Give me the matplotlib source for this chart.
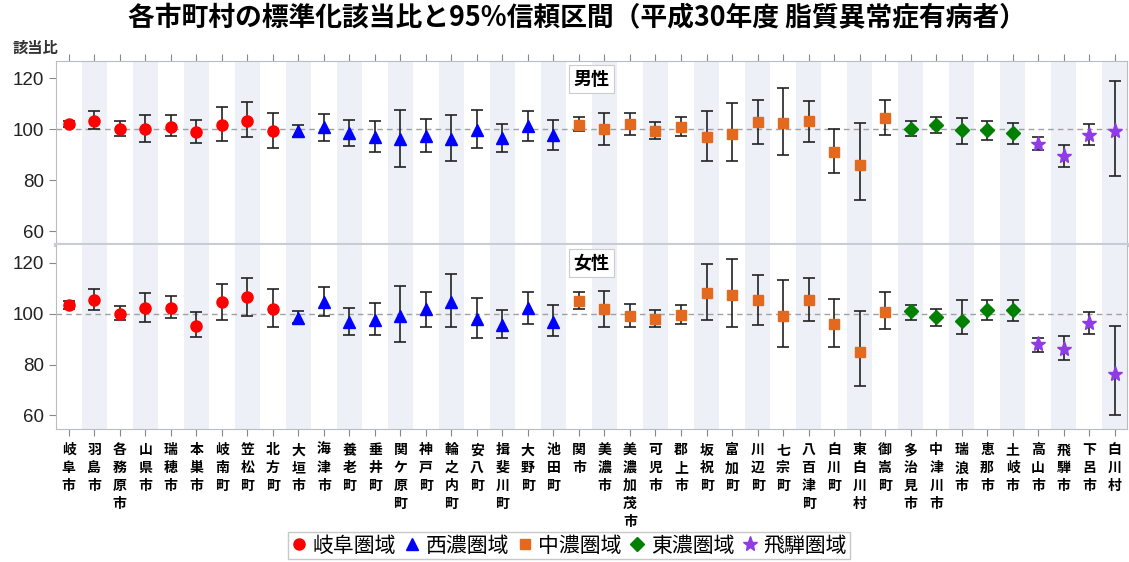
import matplotlib.pyplot as plt
import numpy as np

plt.rcParams['font.family'] = ['Liberation Sans', 'Noto Sans CJK JP']

names = ['岐阜市', '羽島市', '各務原市', '山県市', '瑞穂市', '本巣市', '岐南町', '笠松町', '北方町',
         '大垣市', '海津市', '養老町', '垂井町', '関ケ原町', '神戸町', '輪之内町', '安八町', '揖斐川町',
         '大野町', '池田町',
         '関市', '美濃市', '美濃加茂市', '可児市', '郡上市', '坂祝町', '富加町', '川辺町', '七宗町',
         '八百津町', '白川町', '東白川村', '御嵩町',
         '多治見市', '中津川市', '瑞浪市', '恵那市', '土岐市',
         '高山市', '飛騨市', '下呂市', '白川村']
regions = ['岐阜圏域', '西濃圏域', '中濃圏域', '東濃圏域', '飛騨圏域']
region_sizes = [9, 11, 13, 5, 4]

# 男性
male = [102.1, 103.4, 100.0, 100.0, 101.1, 99.1, 101.6, 103.4, 99.2,
        99.3, 100.8, 98.4, 96.8, 96.2, 97.5, 96.2, 99.7, 96.7, 101.3, 97.8,
        101.8, 100.1, 102.0, 99.3, 100.9, 97.0, 98.0, 103.0, 102.4, 103.3, 91.2, 86.1, 104.3,
        100.3, 101.7, 99.6, 99.6, 98.6,
        94.1, 89.6, 97.9, 99.5]
male_lo = [100.8, 100.1, 97.2, 95.0, 97.2, 94.6, 95.4, 97.0, 92.6,
           96.8, 95.5, 93.4, 91.2, 85.3, 91.2, 87.6, 92.8, 91.2, 95.5, 92.0,
           99.5, 93.8, 97.8, 96.2, 97.2, 87.6, 87.6, 94.2, 89.9, 95.1, 83.0, 72.1, 97.8,
           97.4, 98.7, 94.2, 95.9, 94.2,
           92.0, 85.0, 93.8, 81.7]
male_hi = [103.4, 107.4, 103.3, 105.5, 105.5, 103.6, 108.7, 110.9, 106.3,
           101.6, 106.1, 103.6, 103.2, 107.8, 103.9, 105.5, 107.5, 102.0, 107.1, 103.6,
           105.0, 106.3, 106.3, 102.8, 104.7, 107.4, 110.3, 111.7, 116.3, 111.3, 100.0, 102.5, 111.7,
           103.2, 105.0, 104.3, 103.2, 102.4,
           96.8, 93.7, 102.0, 119.1]

# 女性
female = [103.4, 105.4, 100.0, 102.4, 102.4, 95.3, 104.5, 106.7, 102.0,
          98.2, 104.6, 96.7, 97.4, 99.2, 101.7, 104.6, 97.9, 95.7, 102.1, 96.7,
          105.1, 102.0, 99.2, 98.0, 99.6, 108.3, 107.5, 105.2, 99.2, 105.5, 96.1, 84.8, 100.8,
          101.2, 98.8, 97.2, 101.6, 101.6,
          87.9, 86.2, 96.5, 76.1]
female_lo = [102.0, 101.6, 97.4, 96.6, 98.2, 90.8, 97.4, 99.2, 94.6,
             96.3, 99.2, 91.5, 91.5, 88.8, 94.9, 94.6, 90.3, 90.3, 95.8, 91.1,
             102.0, 94.9, 94.9, 94.6, 95.8, 97.6, 94.6, 95.4, 86.9, 97.0, 86.9, 71.4, 94.0,
             97.6, 95.1, 92.0, 97.4, 97.0,
             85.0, 81.9, 92.0, 60.1]
female_hi = [104.8, 109.6, 103.0, 108.1, 107.0, 100.5, 111.7, 113.9, 109.6,
             101.2, 110.4, 102.4, 104.3, 110.9, 108.5, 115.6, 106.2, 101.6, 108.5, 103.5,
             108.5, 108.9, 103.9, 101.4, 103.5, 119.6, 121.4, 115.4, 113.3, 114.0, 105.9, 100.9, 108.5,
             103.5, 102.0, 105.5, 105.5, 105.5,
             90.3, 91.1, 100.5, 95.0]

styles = {
    '岐阜圏域': ('o', '#FF0000', 8),
    '西濃圏域': ('^', '#0000FF', 8),
    '中濃圏域': ('s', '#E2691E', 7.5),
    '東濃圏域': ('D', '#008000', 7),
    '飛騨圏域': ('*', '#8F3BE8', 11),
}

x = np.arange(len(names))
region_of = np.repeat(regions, region_sizes)

fig = plt.figure(figsize=(11.29, 5.62), dpi=100)
ax1 = fig.add_axes([0.0496, 0.564, 0.949, 0.328])
ax2 = fig.add_axes([0.0496, 0.236, 0.949, 0.328])

panels = [(ax1, male, male_lo, male_hi, '男性'), (ax2, female, female_lo, female_hi, '女性')]
for ax, val, lo, hi, label in panels:
    val = np.array(val)
    lo = np.array(lo)
    hi = np.array(hi)
    for i in x[1::2]:
        ax.axvspan(i - 0.5, i + 0.5, color='#EDF0F7', lw=0, zorder=0)
    ax.axhline(100, color='#A0A0A0', lw=1, ls=(0, (4, 3)), zorder=1)
    ax.errorbar(x, val, yerr=[val - lo, hi - val], fmt='none', ecolor='#222222',
                elinewidth=1.2, capsize=4.5, capthick=1.2, zorder=2)
    for r in regions:
        m, c, s = styles[r]
        idx = region_of == r
        ax.plot(x[idx], val[idx], ls='none', marker=m, color=c, ms=s, mec=c, zorder=3, label=r)
    ax.set_xlim(-0.5, len(names) - 0.5)
    ax.set_ylim(54.5, 127)
    ax.set_yticks([60, 80, 100, 120])
    ax.tick_params(axis='y', labelsize=13.5, color='#888888', length=5, labelcolor='#222222')
    ax.set_xticks(x)
    for sp in ax.spines.values():
        sp.set_color('#B8BCC4')
    ax.text(0.5, 0.9, label, transform=ax.transAxes, ha='center', va='center',
            fontsize=13, fontweight='bold', fontfamily='Noto Sans CJK JP',
            bbox=dict(boxstyle='square,pad=0.25', fc='white', ec='#CCCCCC', lw=0.8), zorder=5)

ax1.spines['bottom'].set_linewidth(3)
ax1.spines['bottom'].set_color('#C8CCD4')
ax2.spines['top'].set_visible(False)
ax1.tick_params(axis='x', top=True, bottom=False, labeltop=False, labelbottom=False,
                color='#888888', length=5)
ax2.tick_params(axis='x', color='#888888', length=5, pad=5)
ax2.set_xticklabels(['\n'.join(n) for n in names], fontfamily='Noto Sans CJK JP',
                    fontweight='bold', fontsize=10, va='top', linespacing=1.36)

fig.text(0.011, 0.915, '該当比', fontsize=11, fontfamily='Noto Sans CJK JP', fontweight='bold',
         color='#333333', va='center')
fig.suptitle('各市町村の標準化該当比と95%信頼区間（平成30年度 脂質異常症有病者）',
             x=0.511, y=0.968, va='center', fontsize=19.3, fontweight='bold',
             fontfamily=['Noto Sans CJK JP'])

handles, labels = ax1.get_legend_handles_labels()
fig.legend(handles, labels, loc='center', bbox_to_anchor=(0.504, 0.029), ncol=5,
           frameon=True, fancybox=False, edgecolor='#BBBBBB', handletextpad=0.25,
           columnspacing=0.35, handlelength=0.8, borderpad=0.12, borderaxespad=0,
           prop={'family': 'Noto Sans CJK JP', 'size': 15})

fig.savefig('out.png', dpi=100)
